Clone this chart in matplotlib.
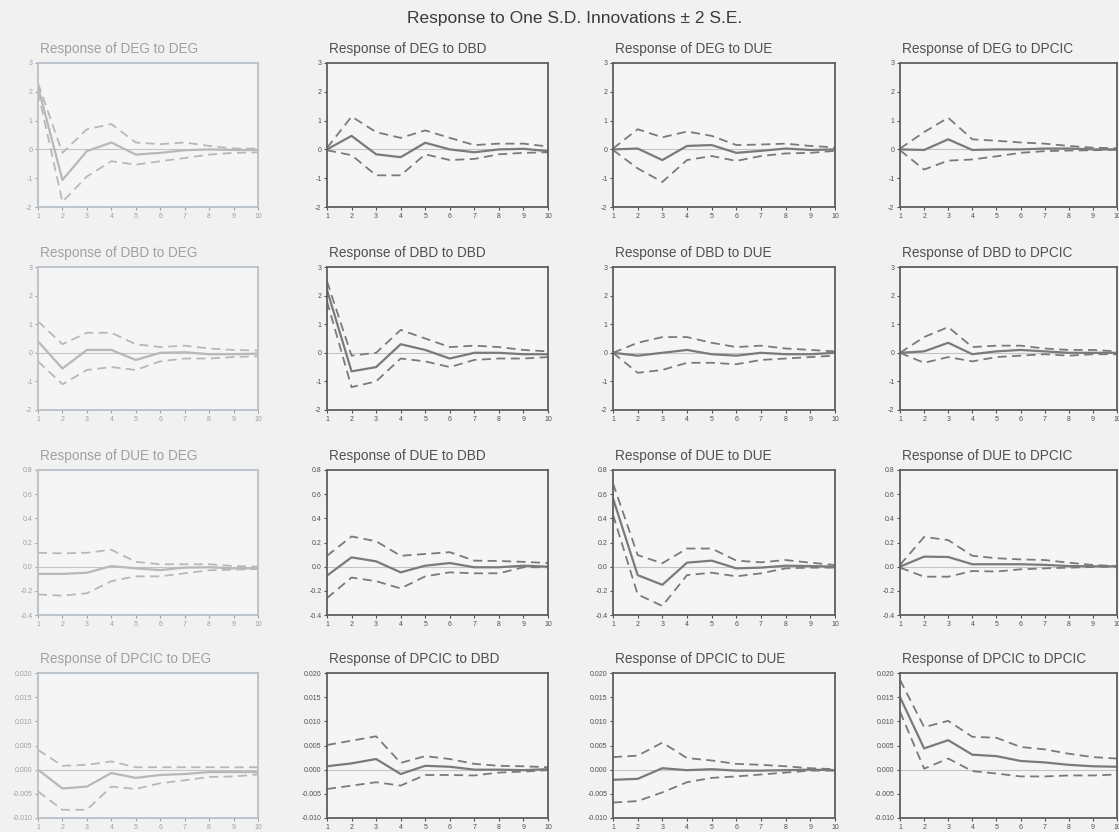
import matplotlib.pyplot as plt
import numpy as np

plt.rcParams['font.family'] = ['Liberation Sans', 'DejaVu Sans']

periods = np.arange(1, 11)
shocks = ['DEG', 'DBD', 'DUE', 'DPCIC']

# each panel: [response, lower band, upper band]
# response of DEG
deg_deg = [[2.18, -1.06, -0.06, 0.24, -0.18, -0.12, -0.03, 0.0, -0.02, -0.02],
           [2.00, -1.82, -0.94, -0.41, -0.53, -0.41, -0.30, -0.18, -0.12, -0.10],
           [2.30, -0.12, 0.70, 0.88, 0.24, 0.18, 0.24, 0.12, 0.03, 0.03]]
deg_dbd = [[0.0, 0.47, -0.17, -0.27, 0.23, 0.0, -0.10, 0.0, 0.02, -0.06],
           [-0.03, -0.20, -0.90, -0.90, -0.17, -0.37, -0.33, -0.17, -0.12, -0.10],
           [0.05, 1.14, 0.60, 0.40, 0.66, 0.40, 0.15, 0.20, 0.20, 0.10]]
deg_due = [[0.0, 0.03, -0.37, 0.12, 0.15, -0.12, -0.05, 0.03, -0.02, 0.0],
           [-0.02, -0.66, -1.13, -0.37, -0.23, -0.40, -0.23, -0.14, -0.12, -0.05],
           [0.03, 0.70, 0.42, 0.62, 0.47, 0.15, 0.17, 0.20, 0.12, 0.07]]
deg_dpcic = [[0.0, -0.02, 0.35, -0.02, 0.0, 0.0, 0.03, 0.03, 0.0, 0.0],
             [-0.03, -0.70, -0.39, -0.35, -0.24, -0.12, -0.06, -0.04, -0.03, -0.01],
             [0.03, 0.60, 1.10, 0.35, 0.30, 0.24, 0.20, 0.12, 0.06, 0.04]]

# response of DBD
dbd_deg = [[0.40, -0.55, 0.10, 0.10, -0.25, 0.0, 0.02, -0.05, -0.05, -0.03],
           [-0.30, -1.10, -0.60, -0.50, -0.60, -0.30, -0.20, -0.20, -0.15, -0.12],
           [1.10, 0.30, 0.70, 0.70, 0.30, 0.20, 0.25, 0.15, 0.10, 0.08]]
dbd_dbd = [[2.20, -0.65, -0.50, 0.30, 0.10, -0.20, 0.0, 0.0, -0.05, -0.05],
           [1.80, -1.20, -1.00, -0.20, -0.30, -0.50, -0.25, -0.20, -0.20, -0.15],
           [2.50, -0.10, 0.0, 0.80, 0.50, 0.20, 0.25, 0.20, 0.10, 0.05]]
dbd_due = [[0.0, -0.10, 0.0, 0.10, -0.05, -0.10, 0.0, -0.05, -0.05, 0.0],
           [0.0, -0.70, -0.60, -0.35, -0.35, -0.40, -0.25, -0.20, -0.15, -0.10],
           [0.0, 0.35, 0.55, 0.55, 0.35, 0.20, 0.25, 0.15, 0.10, 0.05]]
dbd_dpcic = [[0.0, 0.05, 0.35, -0.05, 0.05, 0.10, 0.05, 0.0, 0.0, 0.0],
             [0.0, -0.35, -0.15, -0.30, -0.15, -0.10, -0.05, -0.10, -0.05, -0.05],
             [0.0, 0.55, 0.90, 0.20, 0.25, 0.25, 0.15, 0.10, 0.10, 0.05]]

# response of DUE
due_deg = [[-0.06, -0.06, -0.05, 0.005, -0.014, -0.028, -0.008, -0.005, -0.014, -0.014],
           [-0.23, -0.24, -0.22, -0.12, -0.08, -0.08, -0.055, -0.03, -0.025, -0.02],
           [0.115, 0.11, 0.115, 0.14, 0.04, 0.02, 0.02, 0.02, 0.005, 0.0]]
due_dbd = [[-0.074, 0.077, 0.044, -0.047, 0.008, 0.03, -0.005, -0.005, 0.008, 0.0],
           [-0.26, -0.09, -0.12, -0.18, -0.08, -0.047, -0.055, -0.055, -0.005, -0.005],
           [0.09, 0.25, 0.21, 0.09, 0.105, 0.12, 0.05, 0.047, 0.04, 0.03]]
due_due = [[0.565, -0.07, -0.15, 0.033, 0.05, -0.014, -0.008, 0.008, 0.005, 0.0],
           [0.43, -0.23, -0.325, -0.07, -0.05, -0.08, -0.055, -0.014, -0.008, -0.008],
           [0.69, 0.096, 0.028, 0.15, 0.15, 0.05, 0.036, 0.055, 0.033, 0.014]]
due_dpcic = [[0.0, 0.083, 0.08, 0.02, 0.02, 0.02, 0.015, 0.005, 0.003, 0.003],
             [-0.008, -0.083, -0.083, -0.036, -0.04, -0.022, -0.014, -0.008, -0.003, 0.0],
             [0.014, 0.246, 0.22, 0.09, 0.07, 0.06, 0.055, 0.033, 0.014, 0.005]]

# response of DPCIC
dpcic_deg = [[0.0, -0.0039, -0.0035, -0.0007, -0.0017, -0.0011, -0.0009, -0.0005, -0.0005, -0.0005],
             [-0.0045, -0.0083, -0.0083, -0.0035, -0.0040, -0.0028, -0.0022, -0.0015, -0.0014, -0.0010],
             [0.0041, 0.0008, 0.0010, 0.0017, 0.0005, 0.0005, 0.0005, 0.0005, 0.0005, 0.0005]]
dpcic_dbd = [[0.0007, 0.0013, 0.0022, -0.0009, 0.0008, 0.0006, 0.0, 0.0, -0.0001, 0.0001],
             [-0.0040, -0.0033, -0.0026, -0.0033, -0.0011, -0.0011, -0.0012, -0.0006, -0.0004, -0.0001],
             [0.0051, 0.0060, 0.0069, 0.0014, 0.0028, 0.0022, 0.0012, 0.0008, 0.0007, 0.0005]]
dpcic_due = [[-0.0021, -0.0019, 0.0003, -0.0001, 0.0001, -0.0002, -0.0002, -0.0001, 0.0, -0.0001],
             [-0.0068, -0.0065, -0.0047, -0.0026, -0.0017, -0.0014, -0.0010, -0.0006, -0.0002, -0.0002],
             [0.0026, 0.0029, 0.0056, 0.0024, 0.0019, 0.0012, 0.0010, 0.0007, 0.0003, 0.0001]]
dpcic_dpcic = [[0.0150, 0.0044, 0.0061, 0.0031, 0.0028, 0.0018, 0.0015, 0.0010, 0.0007, 0.0006],
               [0.0120, 0.0002, 0.0023, -0.0003, -0.0008, -0.0014, -0.0014, -0.0012, -0.0012, -0.0010],
               [0.0186, 0.0088, 0.0101, 0.0068, 0.0066, 0.0047, 0.0042, 0.0033, 0.0026, 0.0023]]

grid = [[deg_deg, deg_dbd, deg_due, deg_dpcic],
        [dbd_deg, dbd_dbd, dbd_due, dbd_dpcic],
        [due_deg, due_dbd, due_due, due_dpcic],
        [dpcic_deg, dpcic_dbd, dpcic_due, dpcic_dpcic]]

row_ticks = [[-2, -1, 0, 1, 2, 3],
             [-2, -1, 0, 1, 2, 3],
             [-0.4, -0.2, 0.0, 0.2, 0.4, 0.6, 0.8],
             [-0.010, -0.005, 0.0, 0.005, 0.010, 0.015, 0.020]]
row_fmt = ['{:.0f}', '{:.0f}', '{:.1f}', '{:.3f}']

W, H = 1119, 832
col_left = [38, 327, 613, 900]
col_width = [220, 221, 222, 217]
row_top = [63, 267, 470, 673]
row_height = [144, 143, 145, 145]

fig = plt.figure(figsize=(W / 100, H / 100), dpi=100)
fig.patch.set_facecolor('#f1f1f1')
fig.text(575 / W, 1 - 18 / H, 'Response to One S.D. Innovations \u00b1 2 S.E.',
         ha='center', va='center', fontsize=12.5, color='#3a3a3a')

for r in range(4):
    for c in range(4):
        resp, lo, hi = grid[r][c]
        ax = fig.add_axes([col_left[c] / W, 1 - (row_top[r] + row_height[r]) / H,
                           col_width[c] / W, row_height[r] / H])
        faded = (c == 0)
        frame = '#b9c0c8' if faded else '#5e5e5e'
        line = '#b8b8b8' if faded else '#7a7a7a'
        txt = '#a0a0a0' if faded else '#505050'
        ax.set_facecolor('#f5f5f5')
        ax.axhline(0, color='#c4c4c4', lw=0.8)
        ax.plot(periods, resp, color=line, lw=1.6)
        ax.plot(periods, lo, color=line, lw=1.3, linestyle=(0, (5, 3)))
        ax.plot(periods, hi, color=line, lw=1.3, linestyle=(0, (5, 3)))
        ticks = row_ticks[r]
        ax.set_ylim(ticks[0], ticks[-1])
        ax.set_xlim(1, 10)
        ax.set_yticks(ticks)
        ax.set_yticklabels([row_fmt[r].format(t) for t in ticks])
        ax.set_xticks(periods)
        ax.tick_params(labelsize=5, colors=txt, length=2.5, width=0.8, pad=1.5)
        for s in ax.spines.values():
            s.set_color(frame)
            s.set_linewidth(1.3)
        ax.set_title('Response of %s to %s' % (shocks[r], shocks[c]), loc='left',
                     fontsize=9.8, color=txt, pad=7, x=0.01)

plt.savefig('out.png', dpi=100, facecolor=fig.get_facecolor())
